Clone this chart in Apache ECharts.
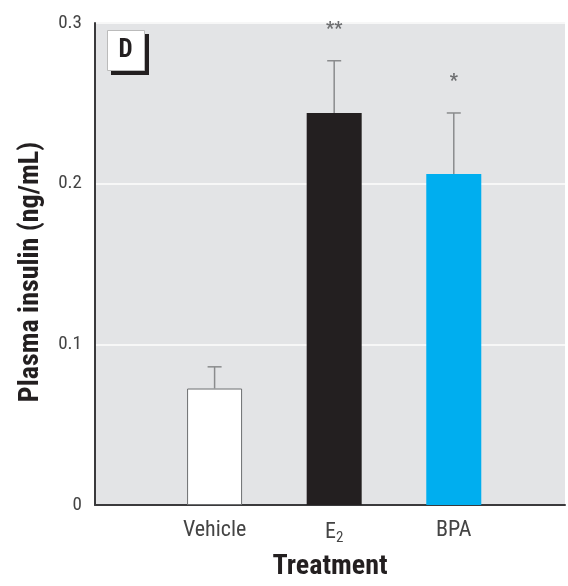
<!DOCTYPE html>
<html>
<head>
<meta charset="utf-8">
<script src="https://cdn.jsdelivr.net/npm/echarts@6/dist/echarts.min.js"></script>
<style>
  html, body { margin: 0; padding: 0; background: #fff; }
  #chart { width: 568px; height: 586px; }
</style>
</head>
<body>
<div id="chart"></div>
<script>
// 数据
let treatments = ['Vehicle', 'E2', 'BPA']
let positions = [1, 2, 3]
let means = [0.0725, 0.244, 0.206]
let errTops = [0.086, 0.2765, 0.244]
let sigMarks = ['', '**', '*']
let barColors = ['#ffffff', '#231f20', '#00aeef']
let yTicks = [0, 0.1, 0.2, 0.3]

let font = '"Liberation Sans Narrow", "Roboto Condensed", "Liberation Sans", Arial, sans-serif'

let chart = echarts.init(document.getElementById('chart'), null, { renderer: 'canvas' })

let barData = positions.map(function (p, i) {
  return {
    value: [p, means[i]],
    itemStyle: {
      color: barColors[i],
      borderColor: i === 0 ? '#6d6e70' : barColors[i],
      borderWidth: i === 0 ? 1 : 0
    }
  }
})

let errData = positions.map(function (p, i) {
  return [p, means[i], errTops[i], i]
})

let option = {
  animation: false,
  grid: {
    left: 95,
    right: 0,
    top: 23,
    bottom: 81,
    show: true,
    backgroundColor: '#e3e4e6',
    borderWidth: 0
  },
  xAxis: {
    type: 'value',
    min: 0,
    max: 3.93,
    interval: 1,
    axisLine: { show: true, lineStyle: { color: '#3a3a3c', width: 2 } },
    axisTick: { show: false },
    splitLine: { show: false },
    axisLabel: {
      margin: 14,
      fontFamily: font,
      fontSize: 22,
      color: '#444',
      formatter: function (v) {
        let idx = positions.indexOf(v)
        if (idx < 0) return ''
        if (treatments[idx] === 'E2') return '{b|E}{s|2}'
        return '{b|' + treatments[idx] + '}'
      },
      rich: {
        b: { fontFamily: font, fontSize: 22, color: '#444' },
        s: { fontFamily: font, fontSize: 15, color: '#444', verticalAlign: 'bottom', padding: [12, 0, 0, 0] }
      }
    },
    name: 'Treatment',
    nameLocation: 'middle',
    nameGap: 48,
    nameTextStyle: { fontFamily: font, fontSize: 28, fontWeight: 'bold', color: '#231f20' }
  },
  yAxis: {
    type: 'value',
    min: yTicks[0],
    max: yTicks[yTicks.length - 1],
    interval: 0.1,
    axisLine: { show: true, lineStyle: { color: '#3a3a3c', width: 2 } },
    axisTick: { show: false },
    splitLine: { show: true, lineStyle: { color: '#f7f7f7', width: 2 } },
    axisLabel: {
      margin: 13,
      fontFamily: font,
      fontSize: 19,
      color: '#444'
    },
    name: 'Plasma insulin (ng/mL)',
    nameLocation: 'middle',
    nameGap: 50,
    nameTextStyle: { fontFamily: font, fontSize: 28, fontWeight: 'bold', color: '#231f20', padding: [0, 16, 0, 0] }
  },
  graphic: [
    { type: 'rect', left: 111, top: 34, shape: { width: 38, height: 41 }, style: { fill: '#231f20' }, z: 10 },
    { type: 'rect', left: 107, top: 30, shape: { width: 37, height: 40 }, style: { fill: '#fff', stroke: '#bbb', lineWidth: 1 }, z: 11 },
    {
      type: 'text', x: 125.5, y: 51, z: 12,
      style: { text: 'D', fontFamily: font, fontSize: 25, fontWeight: 'bold', fill: '#231f20', align: 'center', verticalAlign: 'middle' }
    }
  ],
  series: [
    {
      type: 'bar',
      barWidth: 55,
      data: barData,
      z: 2
    },
    {
      type: 'custom',
      z: 3,
      data: errData,
      renderItem: function (params, api) {
        let base = api.coord([api.value(0), api.value(1)])
        let top = api.coord([api.value(0), api.value(2)])
        let idx = api.value(3)
        let children = [
          { type: 'line', shape: { x1: base[0], y1: base[1], x2: top[0], y2: top[1] }, style: { stroke: '#8a8b8d', lineWidth: 1.5 } },
          { type: 'line', shape: { x1: top[0] - 7, y1: top[1], x2: top[0] + 7, y2: top[1] }, style: { stroke: '#8a8b8d', lineWidth: 1.5 } }
        ]
        if (sigMarks[idx]) {
          children.push({
            type: 'text',
            x: top[0],
            y: top[1] - 31,
            style: { text: sigMarks[idx], fontFamily: font, fontSize: 18, fontWeight: 'bold', fill: '#6d6e70', align: 'center', verticalAlign: 'middle' }
          })
        }
        return { type: 'group', children: children }
      }
    }
  ]
}

chart.setOption(option)
</script>
</body>
</html>
